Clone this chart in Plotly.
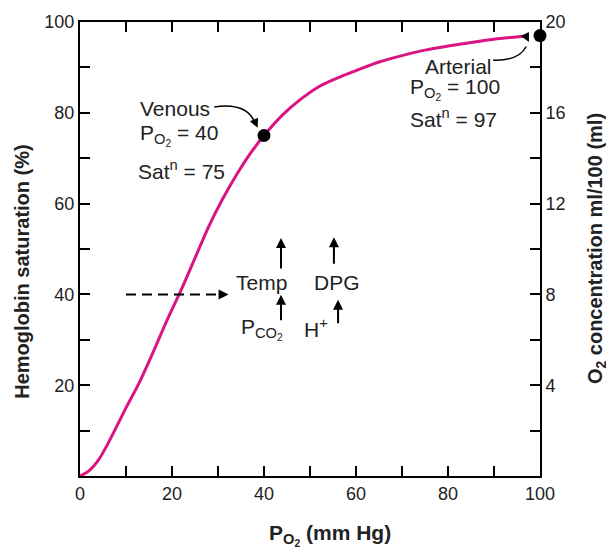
import plotly.graph_objects as go

# Oxygen-haemoglobin dissociation curve
po2 = [0, 2, 4, 6, 8, 10, 13, 16, 19, 22, 25, 28, 31, 34, 37, 40, 44, 48, 52, 56,
       60, 65, 70, 75, 80, 85, 90, 97]
sat = [0, 1.2, 3.5, 7, 11, 15, 20.8, 27.5, 34.5, 41, 48, 55, 61, 66.3, 71, 75, 79.5,
       83, 85.8, 87.7, 89.3, 91.2, 92.6, 93.8, 94.7, 95.5, 96.2, 96.9]

points_x = [40, 100]
points_y = [75, 97]

x_ticks = list(range(0, 101, 10))
x_labels = ["0", "", "20", "", "40", "", "60", "", "80", "", "100"]
y_ticks = list(range(0, 101, 10))
y_labels = ["", "", "20", "", "40", "", "60", "", "80", "", "100"]
y2_ticks = list(range(0, 21, 2))
y2_labels = ["", "", "4", "", "8", "", "12", "", "16", "", "20"]

FONT = "Arial, Liberation Sans, Helvetica, sans-serif"
MAG = "#dc1482"
INK = "#222222"

fig = go.Figure()
fig.add_trace(go.Scatter(x=po2, y=sat, mode="lines",
                         line=dict(color=MAG, width=3, shape="spline", smoothing=0.8),
                         hoverinfo="skip", showlegend=False))
fig.add_trace(go.Scatter(x=points_x, y=points_y, mode="markers",
                         marker=dict(color="black", size=13),
                         cliponaxis=False, showlegend=False))
fig.add_trace(go.Scatter(x=[0, 100], y=[0, 20], yaxis="y2", mode="markers",
                         marker=dict(opacity=0), hoverinfo="skip", showlegend=False))

axis_common = dict(showline=True, linecolor="black", linewidth=2, ticks="inside",
                   ticklen=10, tickwidth=2, tickcolor="black", showgrid=False,
                   zeroline=False, automargin=False,
                   tickfont=dict(family=FONT, size=18, color=INK))

fig.update_layout(
    width=606, height=545,
    margin=dict(l=72, r=74, t=14, b=77, autoexpand=False),
    showlegend=False,
    paper_bgcolor="white", plot_bgcolor="white",
    xaxis=dict(range=[0, 100], tickmode="array", tickvals=x_ticks, ticktext=x_labels,
               mirror="ticks", **axis_common),
    yaxis=dict(range=[0, 100], tickmode="array", tickvals=y_ticks, ticktext=y_labels,
               **axis_common),
    yaxis2=dict(range=[0, 20], overlaying="y", side="right", tickmode="array",
                tickvals=y2_ticks, ticktext=y2_labels, **axis_common),
)

# axis titles
fig.add_annotation(x=0.543, y=-0.13, xref="paper", yref="paper",
                   text="<b>P<sub>O<sub>2</sub></sub> (mm Hg)</b>", showarrow=False,
                   xanchor="center", yanchor="middle",
                   font=dict(family=FONT, size=21, color=INK))
fig.add_annotation(x=-0.126, y=0.45, xref="paper", yref="paper",
                   text="<b>Hemoglobin saturation (%)</b>", showarrow=False, textangle=-90,
                   xanchor="center", yanchor="middle",
                   font=dict(family=FONT, size=20, color=INK))
fig.add_annotation(x=1.122, y=0.5, xref="paper", yref="paper",
                   text="<b>O<sub>2</sub> concentration ml/100 (ml)</b>", showarrow=False,
                   textangle=-90, xanchor="center", yanchor="middle",
                   font=dict(family=FONT, size=20, color=INK))

def txt(x, y, s, size=21):
    fig.add_annotation(x=x, y=y, xref="x", yref="y", text=s, showarrow=False,
                       xanchor="left", yanchor="middle",
                       font=dict(family=FONT, size=size, color=INK))

txt(12.6, 81, "Venous")
txt(12.6, 75.2, "P<sub>O<sub>2</sub></sub> = 40")
txt(12.2, 67.4, "Sat<sup>n</sup> = 75")
txt(74.6, 90.1, "Arterial")
txt(71.3, 85.2, "P<sub>O<sub>2</sub></sub> = 100")
txt(71.3, 78.9, "Sat<sup>n</sup> = 97")
txt(33.4, 42.7, "Temp")
txt(50.5, 42.7, "DPG")
txt(34.6, 32.3, "P<sub>CO<sub>2</sub></sub>")
txt(48.3, 32.6, "H<sup>+</sup>")

# curved pointer lines
fig.add_shape(type="path", xref="x", yref="y",
              path="M 29.2,81.3 Q 36.5,82.3 38.1,77.6",
              line=dict(color="black", width=1.5))
fig.add_shape(type="path", xref="x", yref="y",
              path="M 89.8,91.6 Q 95.4,91.4 97.0,94.6",
              line=dict(color="black", width=1.5))

def head(x, y, ax, ay, width=1.5, size=1.2):
    fig.add_annotation(x=x, y=y, xref="x", yref="y", ax=ax, ay=ay, text="",
                       showarrow=True, arrowhead=2, arrowsize=size, arrowwidth=width,
                       arrowcolor="black")

head(38.6, 76.7, -3, -7)
head(97.6, 95.6, -3, -6)

# vertical arrows
head(43.7, 52.4, 0, 32, width=2, size=1)
head(55.2, 52.6, 0, 28, width=2, size=1)
head(43.7, 39.9, 0, 27, width=2, size=1)
head(56.1, 38.8, 0, 25, width=2, size=1)

# dashed arrow
fig.add_shape(type="line", xref="x", yref="y", x0=10, y0=40, x1=30.5, y1=40,
              line=dict(color="black", width=2, dash="10px,6px"))
head(32.3, 40, -10, 0, width=2, size=1)

fig.write_html("out.html")
